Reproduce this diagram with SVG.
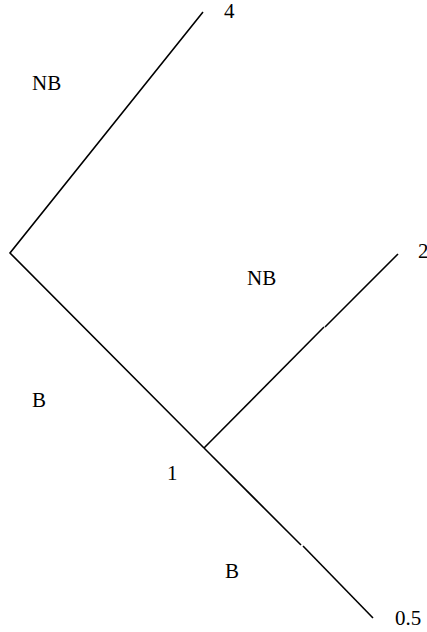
<svg xmlns="http://www.w3.org/2000/svg" width="427" height="632" viewBox="0 0 427 632">
<style>
.e{stroke:#000;stroke-width:1.6;fill:none}
.t{font-family:"Liberation Serif","Times New Roman",serif;font-size:21px;fill:#000}
</style>
<rect width="427" height="632" fill="#fff"/>
<g id="connectors">
<path class="e" d="M203,12 L10,253 L204,448"/>
<path class="e" d="M204,448 L324,327"/>
<path class="e" d="M325,327 L398,254"/>
<path class="e" d="M204,448 L301,545"/>
<path class="e" d="M303,546 L373,618"/>
</g>
<g id="n4"><text class="t" x="224" y="18">4</text></g>
<g id="n2"><text class="t" x="418" y="258">2</text></g>
<g id="n05"><text class="t" x="395" y="625">0.5</text></g>
<g id="n1"><text class="t" x="167" y="480">1</text></g>
<g id="lNB1"><text class="t" x="32" y="90">NB</text></g>
<g id="lB1"><text class="t" x="32" y="407">B</text></g>
<g id="lNB2"><text class="t" x="247" y="285">NB</text></g>
<g id="lB2"><text class="t" x="225" y="578">B</text></g>
</svg>
